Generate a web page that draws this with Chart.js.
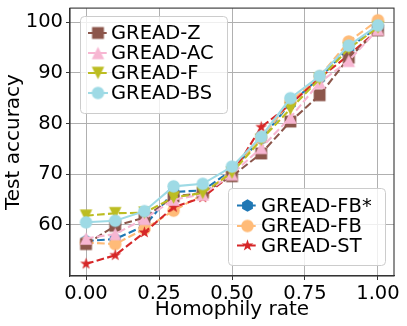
<!DOCTYPE html>
<html><head><meta charset="utf-8">
<script src="https://cdn.jsdelivr.net/npm/chart.js@4"></script>
<style>html,body{margin:0;padding:0;background:#fff}canvas{display:block}</style>
</head><body>
<canvas id="c" width="407" height="326"></canvas>
<script>
const homophily = [0, 0.1, 0.2, 0.3, 0.4, 0.5, 0.6, 0.7, 0.8, 0.9, 1.0];
const xTickValues = [0, 0.25, 0.5, 0.75, 1.0];
const yTickValues = [60, 70, 80, 90, 100];
const greadZ   = [56.2, 59.8, 61.4, 65.6, 66.3, 69.6, 74.1, 80.4, 85.6, 93.0, 98.4];
const greadAC  = [57.3, 58.2, 61.2, 65.0, 66.0, 70.0, 75.2, 81.2, 88.1, 92.4, 98.6];
const greadF   = [61.8, 62.3, 62.4, 65.4, 66.3, 70.3, 76.8, 82.9, 88.8, 94.8, 99.0];
const greadBS  = [60.5, 60.8, 62.7, 67.6, 68.1, 71.5, 77.4, 85.0, 89.4, 95.4, 99.4];
const greadFBs = [56.8, 57.2, 59.8, 66.5, 66.8, 70.8, 77.0, 84.0, 89.0, 95.0, 99.0];
const greadFB  = [56.5, 56.2, 59.2, 62.8, 66.0, 70.6, 77.2, 84.3, 89.3, 96.2, 100.4];
const greadST  = [52.3, 54.0, 58.5, 63.5, 65.4, 70.0, 79.3, 83.8, 89.0, 93.5, 98.5];

const FONT = 'DejaVu Sans';
const MS = 12.5;

function makeMarker(shape, color, ms) {
  const S = Math.ceil(ms) + 4;
  const c = document.createElement('canvas');
  c.width = S; c.height = S;
  const g = c.getContext('2d');
  const cx = S / 2, cy = S / 2, r = ms / 2;
  g.fillStyle = color;
  g.beginPath();
  if (shape === 'circle') {
    g.arc(cx, cy, r, 0, Math.PI * 2);
  } else if (shape === 'square') {
    g.rect(cx - r * 0.95, cy - r * 0.95, r * 1.9, r * 1.9);
  } else if (shape === 'triUp') {
    g.moveTo(cx, cy - r); g.lineTo(cx - r, cy + r); g.lineTo(cx + r, cy + r);
  } else if (shape === 'triDown') {
    g.moveTo(cx, cy + r); g.lineTo(cx - r, cy - r); g.lineTo(cx + r, cy - r);
  } else if (shape === 'hexagon') {
    for (let i = 0; i < 6; i++) {
      const a = -Math.PI / 2 + i * Math.PI / 3;
      const px = cx + r * Math.cos(a), py = cy + r * Math.sin(a);
      i ? g.lineTo(px, py) : g.moveTo(px, py);
    }
  } else if (shape === 'star') {
    const ri = r * 0.381966;
    for (let i = 0; i < 10; i++) {
      const a = -Math.PI / 2 + i * Math.PI / 5;
      const rr = i % 2 ? ri : r;
      const px = cx + rr * Math.cos(a), py = cy + rr * Math.sin(a);
      i ? g.lineTo(px, py) : g.moveTo(px, py);
    }
  }
  g.closePath();
  g.fill();
  return c;
}

const DASH = [7.7, 3.3];
const seriesDefs = [
  {label: 'GREAD-Z',   data: greadZ,   color: '#8c564b', shape: 'square',  dash: DASH, order: 3},
  {label: 'GREAD-AC',  data: greadAC,  color: '#f7b6d2', shape: 'triUp',   dash: DASH, order: 2},
  {label: 'GREAD-F',   data: greadF,   color: '#bcbd22', shape: 'triDown', dash: DASH, order: 1},
  {label: 'GREAD-BS',  data: greadBS,  color: '#9edae5', shape: 'circle',  dash: [],   order: 0},
  {label: 'GREAD-FB*', data: greadFBs, color: '#1f77b4', shape: 'hexagon', dash: DASH, order: 6},
  {label: 'GREAD-FB',  data: greadFB,  color: '#ffbb78', shape: 'circle',  dash: DASH, order: 5},
  {label: 'GREAD-ST',  data: greadST,  color: '#d62728', shape: 'star',    dash: DASH, order: 4}
];
seriesDefs.forEach(s => s.marker = makeMarker(s.shape, s.color, MS));

const datasets = seriesDefs.map(s => ({
  label: s.label,
  data: homophily.map((x, i) => ({x: x, y: s.data[i]})),
  borderColor: s.color,
  backgroundColor: s.color,
  borderWidth: 2.1,
  borderDash: s.dash,
  pointStyle: s.marker,
  pointRadius: 6,
  tension: 0,
  order: s.order
}));

const legendGroups = [
  {box: [80, 16, 147, 97], rows: [33, 53, 73, 93], handle: [88, 108], textX: 111, items: [0, 1, 2, 3]},
  {box: [228, 188, 157, 77], rows: [205.5, 226, 245.5], handle: [237, 258], textX: 261, items: [4, 5, 6]}
];

const extras = {
  id: 'extras',
  afterDraw(chart) {
    const ctx = chart.ctx, a = chart.chartArea;
    ctx.save();
    ctx.strokeStyle = '#333';
    ctx.lineWidth = 1.1;
    ctx.strokeRect(a.left, a.top, a.right - a.left, a.bottom - a.top);
    legendGroups.forEach(gp => {
      const [bx, by, bw, bh] = gp.box;
      ctx.beginPath();
      ctx.roundRect(bx + 0.5, by + 0.5, bw, bh, 4);
      ctx.fillStyle = 'rgba(255,255,255,0.8)';
      ctx.fill();
      ctx.strokeStyle = '#cccccc';
      ctx.lineWidth = 1;
      ctx.stroke();
      gp.items.forEach((idx, k) => {
        const s = seriesDefs[idx];
        const y = gp.rows[k];
        ctx.beginPath();
        ctx.setLineDash(s.dash);
        ctx.strokeStyle = s.color;
        ctx.lineWidth = 2.1;
        ctx.moveTo(gp.handle[0], y);
        ctx.lineTo(gp.handle[1], y);
        ctx.stroke();
        ctx.setLineDash([]);
        const m = s.marker;
        const mx = (gp.handle[0] + gp.handle[1]) / 2;
        ctx.drawImage(m, mx - m.width / 2, y - m.height / 2);
        ctx.fillStyle = '#000';
        ctx.font = '19.5px "' + FONT + '"';
        ctx.textBaseline = 'middle';
        ctx.textAlign = 'left';
        ctx.fillText(s.label, gp.textX, y + 1);
      });
    });
    ctx.restore();
  }
};

new Chart(document.getElementById('c'), {
  type: 'line',
  data: {datasets: datasets},
  plugins: [extras],
  options: {
    responsive: false,
    devicePixelRatio: 1,
    animation: false,
    events: [],
    layout: {padding: {left: 0, top: 5, right: 13, bottom: 0}},
    plugins: {legend: {display: false}, tooltip: {enabled: false}},
    scales: {
      x: {
        type: 'linear',
        min: -0.055, max: 1.055,
        afterFit(scale) { scale.height = 50; scale.paddingLeft = 0; scale.paddingRight = 0; },
        afterBuildTicks(scale) { scale.ticks = xTickValues.map(v => ({value: v})); },
        ticks: {
          callback: v => Number(v).toFixed(2),
          font: {family: FONT, size: 19.5},
          color: '#000',
          padding: 2,
          maxRotation: 0
        },
        grid: {color: '#b0b0b0', lineWidth: 1, borderDash: [1.2, 2], drawTicks: true, tickLength: 4, tickColor: '#333', tickBorderDash: []},
        border: {display: true, color: '#333', width: 1.1},
        title: {display: true, text: 'Homophily rate', font: {family: FONT, size: 20, lineHeight: 1.2}, color: '#000', padding: {top: 0, bottom: 4}}
      },
      y: {
        type: 'linear',
        min: 49.9, max: 102.8,
        afterFit(scale) { scale.width = 70; scale.paddingTop = 0; scale.paddingBottom = 0; },
        afterBuildTicks(scale) { scale.ticks = yTickValues.map(v => ({value: v})); },
        ticks: {
          font: {family: FONT, size: 19.5},
          color: '#000',
          padding: 3
        },
        grid: {color: '#b0b0b0', lineWidth: 1, borderDash: [1.2, 2], drawTicks: true, tickLength: 4, tickColor: '#333', tickBorderDash: []},
        border: {display: true, color: '#333', width: 1.1},
        title: {display: true, text: 'Test accuracy', font: {family: FONT, size: 20, lineHeight: 1.2}, color: '#000', padding: {top: 2, bottom: 0}}
      }
    }
  }
});
</script>
</body></html>
